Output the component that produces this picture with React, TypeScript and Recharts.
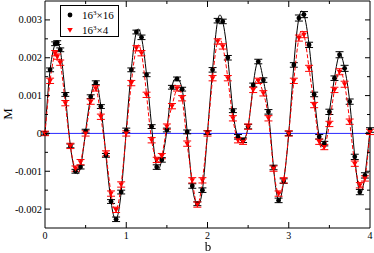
import { ComposedChart, Line, XAxis, YAxis, ErrorBar, ReferenceLine, ReferenceArea } from "recharts";

const W = 374;
const H = 253;
const PLOT = { left: 45, right: 370, top: 1, bottom: 228 };
const FONT = "'Liberation Serif', 'DejaVu Serif', serif";

// b values (1/16 grid, one extra point near the first peak)
const bValues = [
  0, 0.0625, 0.125, 0.15, 0.1875, 0.25, 0.3125, 0.375, 0.4375, 0.5, 0.5625, 0.625, 0.6875, 0.75, 0.8125, 0.875, 0.9375, 1,
  1.0625, 1.125, 1.1875, 1.25, 1.3125, 1.375, 1.4375, 1.5, 1.5625, 1.625, 1.6875, 1.75, 1.8125, 1.875, 1.9375, 2,
  2.0625, 2.125, 2.1875, 2.25, 2.3125, 2.375, 2.4375, 2.5, 2.5625, 2.625, 2.6875, 2.75, 2.8125, 2.875, 2.9375, 3,
  3.0625, 3.125, 3.1875, 3.25, 3.3125, 3.375, 3.4375, 3.5, 3.5625, 3.625, 3.6875, 3.75, 3.8125, 3.875, 3.9375, 4,
];

// 16^3 x 16
const m16 = [
  0, 0.00168, 0.00237, 0.0024, 0.00221, 0.00103, -0.00033, -0.001, -0.00089, 0.00006, 0.00097, 0.00134, 0.00071, -0.00058, -0.0018, -0.00227, -0.00155, 0.00008,
  0.00168, 0.00268, 0.00254, 0.00155, 0.00018, -0.00089, -0.0007, 0.00009, 0.00122, 0.00144, 0.00117, 0.00004, -0.00139, -0.00186, -0.0015, 0.00002,
  0.00168, 0.00298, 0.00296, 0.002, 0.0006, -0.00009, -0.00018, 0.00018, 0.00128, 0.0019, 0.00141, 0.00057, -0.0009, -0.00177, -0.00126, 0,
  0.00181, 0.00305, 0.00314, 0.00234, 0.00103, -0.00009, -0.00027, 0.00057, 0.00146, 0.00208, 0.00172, 0.00084, -0.00062, -0.00155, -0.00111, 0.00009,
];
const e16 = [
  0.00004, 0.00005, 0.00005, 0.00005, 0.00005, 0.00005, 0.00005, 0.00005, 0.00005, 0.00005, 0.00005, 0.00005, 0.00005, 0.00005, 0.00005, 0.00006, 0.00005, 0.00006,
  0.00005, 0.00005, 0.00006, 0.00005, 0.00005, 0.00006, 0.00006, 0.00005, 0.00005, 0.00005, 0.00005, 0.00005, 0.00006, 0.00005, 0.00006, 0.00005,
  0.00006, 0.00006, 0.00006, 0.00006, 0.00005, 0.00006, 0.00006, 0.00006, 0.00005, 0.00006, 0.00006, 0.00006, 0.00006, 0.00006, 0.00006, 0.00006,
  0.00006, 0.00008, 0.00008, 0.00007, 0.00006, 0.00006, 0.00006, 0.00007, 0.00006, 0.00008, 0.00008, 0.00007, 0.00007, 0.00007, 0.00007, 0.00006,
];

// 16^3 x 4
const m4 = [
  0, 0.00139, 0.00212, 0.00203, 0.00187, 0.0008, -0.00033, -0.00093, -0.00076, 0, 0.00084, 0.00119, 0.00044, -0.00053, -0.00159, -0.00202, -0.00135, 0,
  0.00133, 0.00225, 0.00212, 0.00102, -0.00018, -0.0007, -0.0006, 0.00018, 0.00072, 0.00119, 0.00093, -0.00027, -0.00124, -0.00188, -0.00124, 0,
  0.00146, 0.00243, 0.0023, 0.00146, 0.0004, -0.00018, -0.00022, 0.00018, 0.00115, 0.00139, 0.00106, 0.0004, -0.00093, -0.00159, -0.00124, 0,
  0.00139, 0.00252, 0.00261, 0.00172, 0.00075, -0.00022, -0.00036, 0.00025, 0.00115, 0.00163, 0.0013, 0.00031, -0.0008, -0.00137, -0.00119, 0.00004,
];
const e4 = [
  0.00006, 0.00007, 0.00007, 0.00007, 0.00007, 0.00007, 0.00007, 0.00007, 0.00007, 0.00007, 0.00007, 0.00007, 0.00007, 0.00007, 0.00007, 0.00007, 0.00007, 0.00007,
  0.00007, 0.00007, 0.00007, 0.00007, 0.00007, 0.00007, 0.00007, 0.00007, 0.00007, 0.00007, 0.00007, 0.00007, 0.00007, 0.00007, 0.00007, 0.00007,
  0.00007, 0.00007, 0.00007, 0.00007, 0.00007, 0.00007, 0.00007, 0.00007, 0.00007, 0.00007, 0.00007, 0.00007, 0.00007, 0.00007, 0.00007, 0.00007,
  0.00007, 0.00008, 0.00008, 0.00008, 0.00007, 0.00007, 0.00007, 0.00007, 0.00007, 0.00008, 0.00008, 0.00007, 0.00007, 0.00007, 0.00007, 0.00007,
];

const xTicks = [0, 0.5, 1, 1.5, 2, 2.5, 3, 3.5, 4];
const yTicks = [-0.0025, -0.002, -0.0015, -0.001, -0.0005, 0, 0.0005, 0.001, 0.0015, 0.002, 0.0025, 0.003, 0.0035];

const data = bValues.map((b, i) => ({ b, m16: m16[i], e16: e16[i], m4: m4[i], e4: e4[i] }));

function XTick({ x, payload }: any) {
  const v = payload.value as number;
  const major = Number.isInteger(v);
  const len = major ? 6 : 3;
  const edge = v === 0 || v === 4;
  return (
    <g>
      {!edge && <line x1={x} x2={x} y1={PLOT.bottom} y2={PLOT.bottom - len} stroke="#000" />}
      {!edge && <line x1={x} x2={x} y1={PLOT.top} y2={PLOT.top + len} stroke="#000" />}
      {major && (
        <text x={x} y={PLOT.bottom + 10.5} textAnchor="middle" fontSize={10} fontFamily={FONT} fill="#000">
          {v}
        </text>
      )}
    </g>
  );
}

function YTick({ y, payload }: any) {
  const v = payload.value as number;
  const major = Math.abs(v * 1000 - Math.round(v * 1000)) < 1e-6;
  const len = major ? 5 : 3;
  const edge = v === -0.0025 || v === 0.0035;
  return (
    <g>
      {!edge && <line x1={PLOT.left} x2={PLOT.left + len} y1={y} y2={y} stroke="#000" />}
      {!edge && <line x1={PLOT.right} x2={PLOT.right - len} y1={y} y2={y} stroke="#000" />}
      {major && (
        <text x={42} y={y + 3.5} textAnchor="end" fontSize={10.5} fontFamily={FONT} fill="#000">
          {v === 0 ? "0" : v.toFixed(3)}
        </text>
      )}
    </g>
  );
}

function CircleDot({ cx, cy, index }: any) {
  return <circle key={`c${index}`} cx={cx} cy={cy} r={2.4} fill="#000" />;
}

function TriDot({ cx, cy, index }: any) {
  return <path key={`t${index}`} d={`M${cx - 2.8},${cy - 2} L${cx + 2.8},${cy - 2} L${cx},${cy + 2.8} Z`} fill="#ff0000" />;
}

export default function App() {
  return (
    <div style={{ position: "fixed", left: 0, top: 0, width: W, height: H, background: "#fff", color: "#000" }}>
      <ComposedChart width={W} height={H} data={data} margin={{ top: 1, right: 4, left: 0, bottom: 0 }}>
        <XAxis
          dataKey="b"
          type="number"
          domain={[0, 4]}
          ticks={xTicks}
          interval={0}
          height={25}
          axisLine={false}
          tickLine={false}
          tick={<XTick />}
        />
        <YAxis
          type="number"
          domain={[-0.0025, 0.0035]}
          ticks={yTicks}
          interval={0}
          width={45}
          axisLine={false}
          tickLine={false}
          tick={<YTick />}
        />
        <ReferenceLine y={0} stroke="#2a2aff" strokeWidth={1} />
        <Line
          dataKey="m16"
          type="natural"
          stroke="#000"
          strokeWidth={1}
          dot={CircleDot}
          activeDot={false}
          isAnimationActive={false}
        >
          <ErrorBar dataKey="e16" width={4} stroke="#000" strokeWidth={1} direction="y" />
        </Line>
        <Line
          dataKey="m4"
          type="natural"
          stroke="#ff0000"
          strokeWidth={1}
          strokeDasharray="4 2"
          dot={TriDot}
          activeDot={false}
          isAnimationActive={false}
        >
          <ErrorBar dataKey="e4" width={4} stroke="#ff0000" strokeWidth={1} direction="y" />
        </Line>
        <ReferenceArea x1={0} x2={4} y1={-0.0025} y2={0.0035} fill="none" stroke="#000" strokeWidth={1} />
      </ComposedChart>

      <div
        style={{
          position: "absolute",
          left: 0,
          top: 106,
          width: 16,
          textAlign: "center",
          fontFamily: FONT,
          fontSize: 13,
          lineHeight: "16px",
          transform: "rotate(-90deg)",
        }}
      >
        M
      </div>
      <div
        style={{
          position: "absolute",
          left: 201,
          top: 240,
          width: 14,
          textAlign: "center",
          fontFamily: FONT,
          fontSize: 13,
          lineHeight: "14px",
        }}
      >
        b
      </div>

      <div
        style={{
          position: "absolute",
          left: 60,
          top: 5,
          width: 57,
          height: 30,
          border: "1px solid #000",
          background: "#fff",
          fontFamily: FONT,
          fontSize: 11,
        }}
      >
        <svg width={18} height={30} style={{ position: "absolute", left: 0, top: 0 }}>
          <circle cx={9} cy={9} r={2.4} fill="#000" />
          <path d="M6.2,22 L11.8,22 L9,26.8 Z" fill="#ff0000" />
        </svg>
        <div style={{ position: "absolute", left: 21, top: 2.5, lineHeight: "13px", whiteSpace: "nowrap" }}>
          16<sup style={{ fontSize: 7, verticalAlign: "top", lineHeight: "8px" }}>3</sup>×16
        </div>
        <div style={{ position: "absolute", left: 21, top: 17.5, lineHeight: "13px", whiteSpace: "nowrap" }}>
          16<sup style={{ fontSize: 7, verticalAlign: "top", lineHeight: "8px" }}>3</sup>×4
        </div>
      </div>
    </div>
  );
}
